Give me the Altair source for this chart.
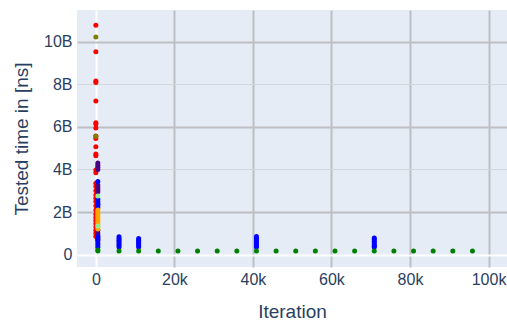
import altair as alt
import pandas as pd

# Iteration columns used by the sampled series
X_EARLY = 500
X_LATE = [5900, 10900, 15900, 20900, 25900, 30900, 35900, 40900, 45900, 50900,
          55900, 60900, 65900, 70900, 75900, 80900, 85900, 90900, 95900]

# Tested times in billions of ns, grouped by series
red_y = [10.77, 9.53, 8.15, 8.08, 7.22, 6.20, 6.14, 5.95, 5.57, 5.45, 5.07, 4.73,
         4.65, 3.98, 3.85, 3.35, 3.20, 3.00, 2.80, 2.65, 2.50, 2.30, 2.10, 1.90,
         1.75, 1.60, 1.45, 1.30, 1.15, 1.00, 0.85]
olive_y = [10.22, 5.56]
indigo_y = [4.30, 4.20, 4.10, 4.00, 3.27, 3.15, 3.05, 2.95, 2.35, 2.20, 1.15,
            1.00, 0.90, 0.80, 0.70]
blue_early_y = [3.43, 2.60, 2.50, 2.40, 2.30, 0.85, 0.75, 0.65, 0.55, 0.45, 0.35]
blue_x = [5900, 10900, 40900, 70900]
blue_late_y = [
    [0.84, 0.76, 0.68, 0.60, 0.52, 0.44, 0.36],
    [0.76, 0.68, 0.60, 0.52, 0.44, 0.36],
    [0.85, 0.77, 0.69, 0.60, 0.51, 0.42, 0.36],
    [0.78, 0.71, 0.63, 0.55, 0.47, 0.40, 0.36],
]
orange_y = [2.10, 2.00, 1.90, 1.80, 1.70, 1.60, 1.50, 1.40, 1.30, 1.20]
lightgreen_y = [2.76, 1.35]
green_early_y = [0.22, 0.17]
green_late_y = 0.17

series_names = ["red", "olive", "indigo", "blue", "orange", "lightgreen", "green"]
series_colors = ["#ff0000", "#808000", "#4b0082", "#0000ff", "#ffa500", "#90ee90", "#008000"]

rows = []
rows += [("red", 0, v) for v in red_y]
rows += [("olive", 0, v) for v in olive_y]
rows += [("indigo", X_EARLY, v) for v in indigo_y]
rows += [("blue", X_EARLY, v) for v in blue_early_y]
for bx, ys in zip(blue_x, blue_late_y):
    rows += [("blue", bx, v) for v in ys]
rows += [("orange", X_EARLY, v) for v in orange_y]
rows += [("lightgreen", X_EARLY, v) for v in lightgreen_y]
rows += [("green", X_EARLY, v) for v in green_early_y]
rows += [("green", gx, green_late_y) for gx in X_LATE]

df = pd.DataFrame(rows, columns=["series", "iteration", "time_b"])
df["time"] = df["time_b"] * 1e9
df["idx"] = range(len(df))

FONT = "Liberation Sans"
TEXT = "#2a3f5f"

x_grid_color = {"condition": {"test": "datum.value === 0", "value": "#ffffff"},
                "value": "#bdbfc4"}
y_grid_color = {"condition": [
    {"test": "datum.value === 0", "value": "#ffffff"},
    {"test": "datum.value % 4e9 === 0", "value": "#d3d6dc"}],
    "value": "#bdbfc4"}
y_grid_width = {"condition": {"test": "datum.value % 4e9 === 0 && datum.value !== 0",
                              "value": 1}, "value": 2}

chart = alt.Chart(df).mark_circle(size=25, opacity=1).encode(
    x=alt.X("iteration:Q",
            scale=alt.Scale(domain=[-4800, 104700], nice=False, zero=False),
            axis=alt.Axis(title="Iteration",
                          values=[0, 20000, 40000, 60000, 80000, 100000],
                          labelExpr="datum.value === 0 ? '0' : (datum.value / 1000) + 'k'",
                          gridColor=x_grid_color, gridWidth=2,
                          domain=False, ticks=False, labelPadding=4,
                          titlePadding=15)),
    y=alt.Y("time:Q",
            scale=alt.Scale(domain=[-0.58e9, 11.49e9], nice=False, zero=False),
            axis=alt.Axis(title="Tested time in [ns]",
                          values=[0, 2e9, 4e9, 6e9, 8e9, 10e9],
                          labelExpr="datum.value === 0 ? '0' : (datum.value / 1e9) + 'B'",
                          gridColor=y_grid_color, gridWidth=y_grid_width,
                          domain=False, ticks=False, labelPadding=5,
                          titlePadding=12)),
    color=alt.Color("series:N",
                    scale=alt.Scale(domain=series_names, range=series_colors),
                    legend=None),
    order=alt.Order("idx:Q"),
).properties(
    width=430,
    height=257,
    autosize=alt.AutoSizeParams(type="none"),
    padding={"left": 77, "top": 10, "right": 0, "bottom": 56},
    background="#ffffff",
).configure_view(
    fill="#e5ecf6", stroke=None
).configure_axis(
    labelFont=FONT, labelFontSize=16, labelColor=TEXT,
    titleFont=FONT, titleFontSize=19, titleColor=TEXT, titleFontWeight="normal",
)

chart.save("out.html", embed_options={"renderer": "svg", "actions": False})
